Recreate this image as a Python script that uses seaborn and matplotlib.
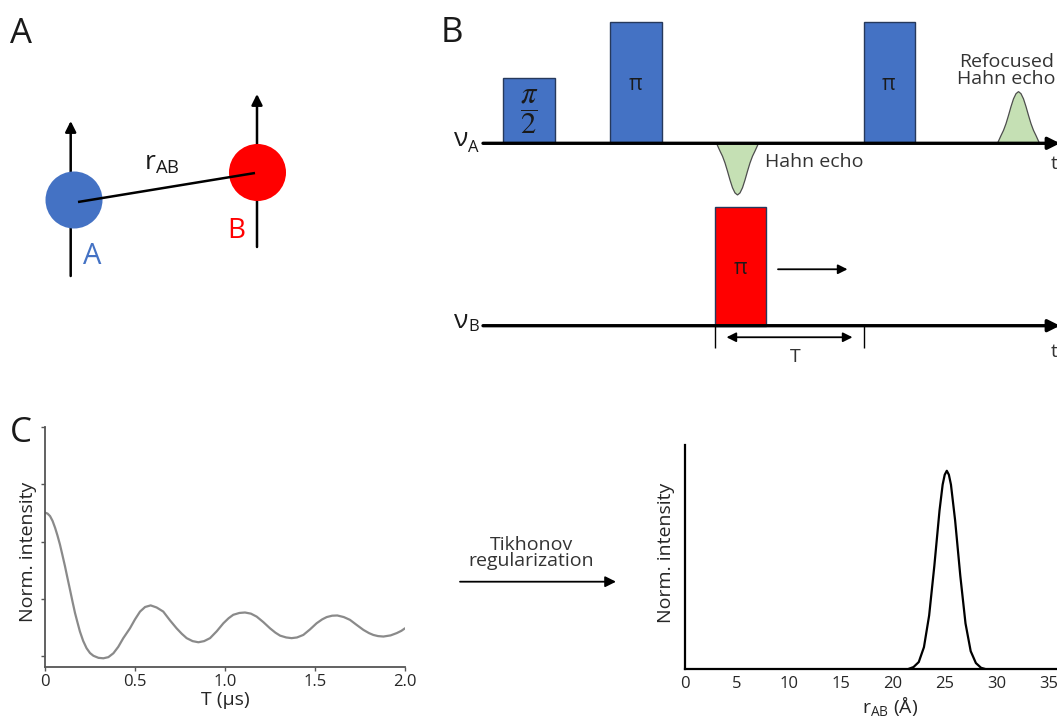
import matplotlib
matplotlib.use("Agg")
import matplotlib.pyplot as plt
import seaborn as sns
import pandas as pd
from matplotlib.patches import Circle

# ---------------- data ----------------
# Panel C (left): DEER time trace
deer_t = [0.000, 0.014, 0.028, 0.042, 0.056, 0.069, 0.083, 0.097, 0.111, 0.125,
          0.139, 0.153, 0.167, 0.181, 0.194, 0.212, 0.231, 0.250, 0.269, 0.297,
          0.324, 0.352, 0.380, 0.407, 0.435, 0.472, 0.500, 0.528, 0.556, 0.587,
          0.620, 0.657, 0.694, 0.731, 0.760, 0.787, 0.820, 0.852, 0.884, 0.917,
          0.954, 0.991, 1.020, 1.046, 1.080, 1.111, 1.144, 1.176, 1.213, 1.250,
          1.280, 1.306, 1.340, 1.370, 1.400, 1.435, 1.472, 1.509, 1.540, 1.565,
          1.595, 1.624, 1.660, 1.694, 1.731, 1.769, 1.800, 1.824, 1.850, 1.880,
          1.920, 1.954, 1.980, 2.000]
deer_v = [0.626, 0.622, 0.611, 0.590, 0.560, 0.527, 0.487, 0.440, 0.392, 0.340,
          0.289, 0.237, 0.187, 0.145, 0.107, 0.066, 0.034, 0.013, 0.001, -0.008,
          -0.010, -0.005, 0.012, 0.040, 0.078, 0.121, 0.160, 0.194, 0.214, 0.221,
          0.212, 0.194, 0.156, 0.121, 0.097, 0.078, 0.065, 0.060, 0.065, 0.078,
          0.108, 0.143, 0.165, 0.180, 0.188, 0.190, 0.185, 0.172, 0.148, 0.121,
          0.102, 0.089, 0.081, 0.078, 0.081, 0.092, 0.116, 0.143, 0.160, 0.170,
          0.176, 0.177, 0.170, 0.158, 0.136, 0.114, 0.100, 0.092, 0.087, 0.085,
          0.090, 0.100, 0.110, 0.121]
deer_xticks = [0, 0.5, 1.0, 1.5, 2.0]
deer_xticklabels = ["0", "0.5", "1.0", "1.5", "2.0"]

# Panel C (right): distance distribution
dist_r = [21.5, 22.0, 22.5, 23.0, 23.5, 24.0, 24.5, 24.8, 25.0, 25.2, 25.4, 25.6,
          26.0, 26.5, 27.0, 27.5, 28.0, 28.5, 28.9]
dist_p = [0.0, 0.01, 0.035, 0.11, 0.27, 0.52, 0.80, 0.93, 0.98, 1.0, 0.98, 0.93,
          0.75, 0.47, 0.23, 0.09, 0.03, 0.006, 0.0]
dist_xticks = [0, 5, 10, 15, 20, 25, 30, 35]

# Panel B: pulse sequence (arbitrary time units)
pulse_start = [4.0, 25.4, 76.1, 46.4]
pulse_width = [10.3, 10.3, 10.2, 10.2]
pulse_height = [0.54, 1.0, 1.0, 0.98]
pulse_channel = ["A", "A", "A", "B"]
pulse_label = [r"$\dfrac{\pi}{2}$", "π", "π", "π"]
channel_names = ["A", "B"]

echo_center = [50.9, 107.1]
echo_amp = [-0.425, 0.425]
echo_offset = [-4.2, -3.5, -3.0, -2.5, -2.0, -1.5, -1.0, -0.5, 0.0,
               0.5, 1.0, 1.5, 2.0, 2.5, 3.0, 3.5, 4.2]
echo_shape = [0.0, 0.15, 0.25, 0.38, 0.54, 0.71, 0.86, 0.96, 1.0,
              0.96, 0.86, 0.71, 0.54, 0.38, 0.25, 0.15, 0.0]

# Panel A: two spins (diagram units)
spin_names = ["A", "B"]
spin_x = [74, 257.5]
spin_y = [200, 172.5]

# ---------------- style ----------------
sns.set_theme(style="ticks")
plt.rcParams["font.family"] = ["Open Sans", "DejaVu Sans"]
plt.rcParams["text.color"] = "#262626"

W, H = 1057, 717
fig = plt.figure(figsize=(W / 100, H / 100), dpi=100)
fig.patch.set_facecolor("white")


def fx(x):
    return x / W


def fy(y):
    return 1 - y / H


BLUE = "#4472C4"
RED = "#FF0000"
GREEN = "#C5E0B4"

# panel letters
for letter, (px, py) in zip(["A", "B", "C"], [(10, 34), (441, 33), (10, 433)]):
    fig.text(fx(px), fy(py), letter, fontsize=25, ha="left", va="center", color="#1a1a1a")

# ---------------- overlay axes (panel A + arrow) ----------------
ov = fig.add_axes([0, 0, 1, 1])
ov.set_xlim(0, W)
ov.set_ylim(H, 0)
ov.axis("off")
ov.patch.set_alpha(0)

spin_colors = [BLUE, RED]
arrow_x = [70.7, 257.0]
arrow_bottom = [276, 247]
arrow_top = [121, 94]
for i in range(2):
    ov.annotate("", xy=(arrow_x[i], arrow_top[i]), xytext=(arrow_x[i], arrow_bottom[i]),
                arrowprops=dict(arrowstyle="-|>", color="black", lw=1.8,
                                mutation_scale=16, shrinkA=0, shrinkB=0), zorder=1)
    ov.add_patch(Circle((spin_x[i], spin_y[i]), 28.5, facecolor=spin_colors[i],
                        edgecolor="none", zorder=2))
ov.plot([spin_x[0] + 4, spin_x[1] - 2.5], [spin_y[0] + 2, spin_y[1] + 0.5],
        color="black", lw=1.8, zorder=3, solid_capstyle="butt")
ov.text(162, 164, r"r$_{\mathregular{AB}}$", fontsize=19, ha="center", va="center",
        color="#1a1a1a")
ov.text(92, 257, spin_names[0], fontsize=21, ha="center", va="center", color=BLUE)
ov.text(236.5, 231, spin_names[1], fontsize=20, ha="center", va="center", color=RED)

# Tikhonov arrow
ov.annotate("", xy=(616, 581.7), xytext=(460, 581.7),
            arrowprops=dict(arrowstyle="-|>", color="black", lw=1.3,
                            mutation_scale=16, shrinkA=0, shrinkB=0))
ov.text(531, 553, "Tikhonov\nregularization", fontsize=14, ha="center", va="center",
        linespacing=0.9, color="#333333")

# ---------------- panel B ----------------
x0_px, x1_px = 483, 1058
axB = fig.add_axes([fx(x0_px), fy(380), (x1_px - x0_px) / W, 380 / H])
axB.set_xlim(0, 115)
ypp = 121.6
axB.set_ylim((143.3 - 380) / ypp, 143.3 / ypp)
axB.axis("off")
base = {"A": 0.0, "B": -1.5}

bottoms = [base[c] for c in pulse_channel]
cols = [BLUE if c == "A" else RED for c in pulse_channel]
axB.bar(pulse_start, pulse_height, width=pulse_width, bottom=bottoms, align="edge",
        color=cols, edgecolor="#26395c", linewidth=1.0, zorder=2)
for s, w, h, b, lab in zip(pulse_start, pulse_width, pulse_height, bottoms, pulse_label):
    if lab.startswith("$"):
        axB.text(s + w / 2, b + h / 2 - 0.01, lab, fontsize=22, ha="center", va="center",
                 math_fontfamily="stix", color="#1a1a1a", zorder=4)
    else:
        axB.text(s + w / 2, b + h / 2 - 0.02, lab, fontsize=15, ha="center", va="center",
                 color="#1a1a1a", zorder=4)

for c, a in zip(echo_center, echo_amp):
    xs = [c + o for o in echo_offset]
    ys = [a * v for v in echo_shape]
    axB.fill(xs, ys, facecolor=GREEN, edgecolor="#4d4d4d", lw=0.9, zorder=2)

sub_dy = {"A": -0.035, "B": -0.007}
nu_dy = {"A": 0.03, "B": 0.035}
for ch in channel_names:
    axB.annotate("", xy=(115.4, base[ch]), xytext=(0, base[ch]),
                 arrowprops=dict(arrowstyle="-|>", color="black", lw=2.4,
                                 mutation_scale=18, shrinkA=0, shrinkB=0),
                 annotation_clip=False, zorder=5)
    axB.text(-2.9, base[ch] + nu_dy[ch], "ν", fontsize=19, ha="right", va="center",
             color="#1a1a1a", clip_on=False)
    axB.text(-1.95, base[ch] + sub_dy[ch], ch, fontsize=12, ha="center", va="center",
             color="#1a1a1a", clip_on=False)
    axB.text(114.95, base[ch] - 0.17 if ch == "A" else base[ch] - 0.22, "t",
             fontsize=14, ha="right", va="center", color="#333333")

axB.vlines([pulse_start[3], pulse_start[2]], -1.683, -1.5, color="black", lw=1.0, zorder=3)
axB.annotate("", xy=(73.9, -1.595), xytext=(48.7, -1.595),
             arrowprops=dict(arrowstyle="<|-|>", color="black", lw=1.3,
                             mutation_scale=14, shrinkA=0, shrinkB=0))
axB.text(62.4, -1.755, "T", fontsize=14, ha="center", va="center", color="#333333")
axB.annotate("", xy=(72.9, -1.036), xytext=(59, -1.036),
             arrowprops=dict(arrowstyle="-|>", color="black", lw=1.3,
                             mutation_scale=14, shrinkA=0, shrinkB=0))
axB.text(56.4, -0.155, "Hahn echo", fontsize=14, ha="left", va="center", color="#333333")
axB.text(104.7, 0.60, "Refocused\nHahn echo", fontsize=14, ha="center", va="center",
         linespacing=0.95, color="#333333")

# ---------------- panel C left ----------------
axC1 = fig.add_axes([fx(45), fy(667), 360 / W, 240 / H])
sns.lineplot(x=deer_t, y=deer_v, ax=axC1, color="#8a8a8a", lw=1.6)
axC1.set_xlim(0, 2.0)
axC1.set_ylim(-0.048, 1.0)
axC1.set_yticks([0, 0.25, 0.5, 0.75, 1.0])
axC1.set_yticklabels([])
axC1.set_xticks(deer_xticks)
axC1.set_xticklabels(deer_xticklabels)
axC1.set_xlabel("T (µs)", fontsize=14, labelpad=1, color="#262626")
axC1.set_ylabel("Norm. intensity", fontsize=14, color="#262626")
axC1.yaxis.set_label_coords(-0.022, 0.48)
for sp in ["top", "right"]:
    axC1.spines[sp].set_visible(False)
for sp in ["left", "bottom"]:
    axC1.spines[sp].set_color("#555555")
    axC1.spines[sp].set_linewidth(1.3)
axC1.tick_params(axis="both", length=3, width=1, color="#555555", labelsize=12,
                 labelcolor="#262626", pad=2)
axC1.set_facecolor("none")

# ---------------- panel C right ----------------
axC2 = fig.add_axes([fx(685), fy(669), 374 / W, 224 / H])
sns.lineplot(x=dist_r, y=dist_p, ax=axC2, color="black", lw=1.6)
axC2.set_xlim(0, 36)
axC2.set_ylim(0, 1.13)
axC2.set_xticks(dist_xticks)
axC2.set_yticks([])
axC2.set_xlabel(r"r$_{\mathregular{AB}}$ (Å)", fontsize=14, labelpad=0, color="#262626")
axC2.set_ylabel("Norm. intensity", fontsize=14, color="#262626")
axC2.yaxis.set_label_coords(-0.027, 0.52)
axC2.xaxis.set_label_coords(0.548, -0.115)
for sp in ["top", "right"]:
    axC2.spines[sp].set_visible(False)
for sp in ["left", "bottom"]:
    axC2.spines[sp].set_color("black")
    axC2.spines[sp].set_linewidth(1.6)
axC2.tick_params(axis="x", length=0, labelsize=12, labelcolor="#262626", pad=5)
axC2.set_facecolor("none")

fig.savefig("out.png", dpi=100, facecolor="white")
